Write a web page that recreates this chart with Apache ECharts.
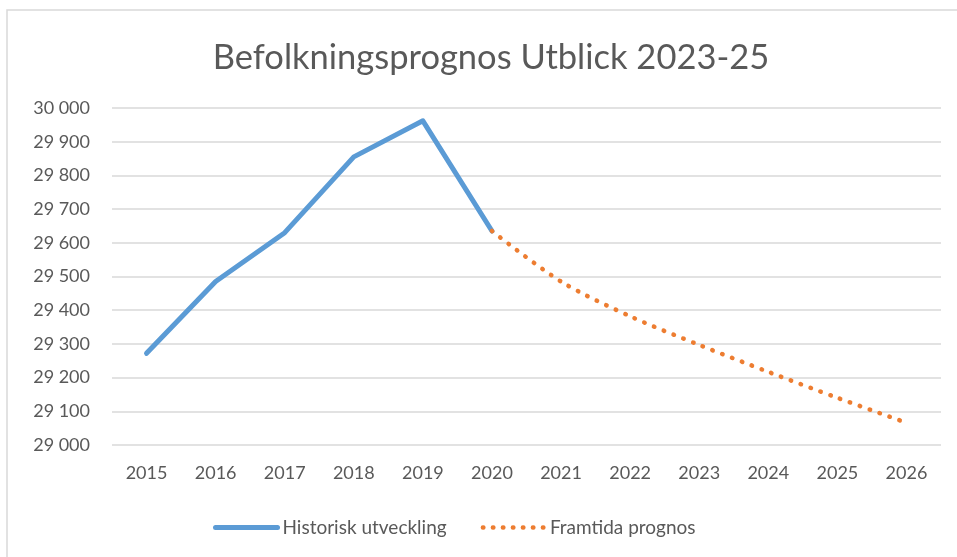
<!DOCTYPE html>
<html>
    <head>
        <title>Befolkningsprognos</title>
        <meta charset="UTF-8">
        <style>
            html, body { margin: 0; padding: 0; background: #fff; }
            #container { width: 957px; height: 557px; }
        </style>
    </head>
    <body>
        <div id="container"></div>
        <script type="text/javascript" src="https://cdn.jsdelivr.net/npm/echarts@6/dist/echarts.min.js"></script>
        <script type="text/javascript">
            // data
            var years = ['2015', '2016', '2017', '2018', '2019', '2020', '2021', '2022', '2023', '2024', '2025', '2026'];
            var historisk = [29272, 29485, 29630, 29855, 29962, 29635, null, null, null, null, null, null];
            var prognos = [null, null, null, null, null, 29635, 29485, 29382, 29297, 29217, 29140, 29066];

            var textColor = '#595959';
            var font = 'Lato, "Open Sans", sans-serif';

            var myChart = echarts.init(document.getElementById('container'));
            var option = {
                animation: false,
                title: {
                    text: 'Befolkningsprognos Utblick 2023-25',
                    left: 486,
                    textAlign: 'center',
                    top: 35,
                    textStyle: {
                        color: textColor,
                        fontFamily: font,
                        fontWeight: 'normal',
                        fontSize: 34.5
                    }
                },
                graphic: [{
                    type: 'rect',
                    shape: {x: 7, y: 10, width: 1000, height: 600},
                    style: {fill: 'none', stroke: '#d9d9d9', lineWidth: 1.5},
                    silent: true
                }],
                legend: {
                    top: 513,
                    left: 208,
                    itemWidth: 62,
                    itemHeight: 12,
                    itemGap: 34,
                    itemStyle: {opacity: 0},
                    textStyle: {color: textColor, fontFamily: font, fontSize: 19},
                    data: [
                        {name: 'Historisk utveckling', lineStyle: {width: 5, cap: 'round'}},
                        {name: 'Framtida prognos', lineStyle: {width: 4.5, type: [0.5, 9.5], cap: 'round'}}
                    ]
                },
                grid: {
                    left: 112,
                    right: 16,
                    top: 108,
                    bottom: 112
                },
                xAxis: {
                    type: 'category',
                    data: years,
                    boundaryGap: true,
                    axisLine: {show: false},
                    axisTick: {show: false},
                    axisLabel: {color: textColor, fontFamily: font, fontSize: 18, margin: 19}
                },
                yAxis: {
                    type: 'value',
                    min: 29000,
                    max: 30000,
                    interval: 100,
                    axisLine: {show: false},
                    axisTick: {show: false},
                    splitLine: {lineStyle: {color: '#d9d9d9', width: 1.5}},
                    axisLabel: {
                        color: textColor,
                        fontFamily: font,
                        fontSize: 18,
                        margin: 22,
                        formatter: function (v) {
                            return String(v).replace(/\B(?=(\d{3})+(?!\d))/g, ' ');
                        }
                    }
                },
                series: [{
                        name: 'Historisk utveckling',
                        type: 'line',
                        data: historisk,
                        symbol: 'none',
                        itemStyle: {color: '#5b9bd5'},
                        lineStyle: {color: '#5b9bd5', width: 5, cap: 'round', join: 'round'}
                    }, {
                        name: 'Framtida prognos',
                        type: 'line',
                        data: prognos,
                        symbol: 'none',
                        smooth: 0.3,
                        itemStyle: {color: '#ed7d31'},
                        lineStyle: {color: '#ed7d31', width: 4.5, type: [0.5, 10], cap: 'round'}
                    }
                ]
            };
            myChart.setOption(option);
        </script>
    </body>
</html>
